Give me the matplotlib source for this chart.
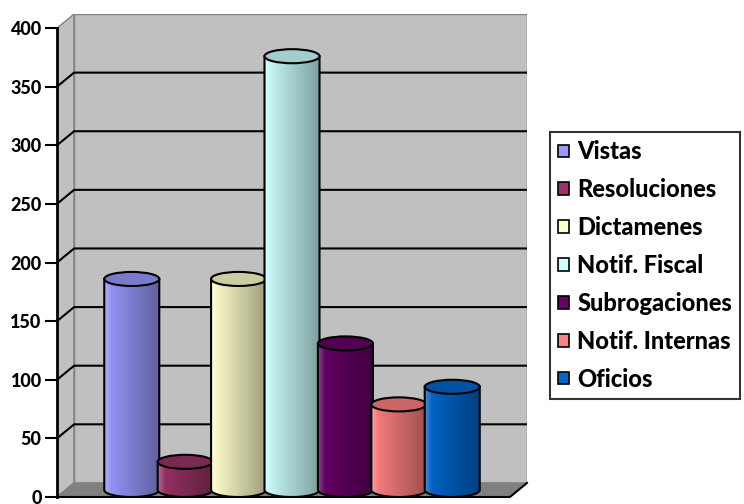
import numpy as np
import matplotlib.pyplot as plt
from matplotlib.patches import Polygon, Ellipse, Patch
from matplotlib.colors import to_rgb

categories = ['Vistas', 'Resoluciones', 'Dictamenes', 'Notif. Fiscal',
              'Subrogaciones', 'Notif. Internas', 'Oficios']
values = [180, 24, 180, 370, 125, 73, 88]
colors = ['#9999FF', '#993366', '#FFFFCC', '#CCFFFF', '#660066', '#FF8080', '#0066CC']
yticks = [0, 50, 100, 150, 200, 250, 300, 350, 400]

plt.rcParams['font.family'] = ['Lato', 'DejaVu Sans']
plt.rcParams['font.weight'] = 'black'

fig = plt.figure(figsize=(7.44, 5.04), dpi=100)
ax = fig.add_axes([57 / 744, 7 / 504, 470 / 744, 483 / 504])

# fake 3d box: floor width in bar units, depth offsets
W = 8.48
dx, dy = 0.32, 12
ymax = yticks[-1]
wall = '#C0C0C0'
edge = '#808080'

ax.add_patch(Polygon([(0, 0), (0, ymax), (dx, ymax + dy), (dx, dy)],
                     fc=wall, ec=edge, lw=1, zorder=0.5))
ax.add_patch(Polygon([(dx, dy), (dx, ymax + dy), (W + dx, ymax + dy), (W + dx, dy)],
                     fc=wall, ec=edge, lw=1, zorder=0.5))
ax.add_patch(Polygon([(0, 0), (W, 0), (W + dx, dy), (dx, dy)],
                     fc='#808080', ec='#808080', lw=1, zorder=0.6))

for v in yticks[1:-1]:
    ax.plot([0, dx, W + dx], [v, v + dy, v + dy], color='k', lw=1.5, zorder=1)

ax.plot([0, W, W + dx], [0, 0, dy], color='k', lw=1.5, zorder=1.5, clip_on=False)

# cylinders
w = 1.03
base = dy / 2
t = np.linspace(np.pi, 2 * np.pi, 60)
for i, (v, c) in enumerate(zip(values, colors)):
    xc = 1.24 + i + dx / 2
    rgb = np.array(to_rgb(c))
    f = np.linspace(0, 1, 80)
    shade = np.clip(1.0 - 0.38 * f, 0, 1)[:, None] * rgb
    light = np.clip(0.25 - f * 2, 0, None)[:, None]
    shade = shade * (1 - light) + light
    grad = np.repeat(shade[None, :, :], 2, axis=0)

    arc = np.column_stack([xc + w / 2 * np.cos(t), base + dy / 2 * np.sin(t)])
    verts = np.vstack([[xc - w / 2, v + base], arc, [xc + w / 2, v + base]])
    body = Polygon(verts, closed=True, fc='none', ec='k', lw=1.5, zorder=2 + i + 0.1)
    ax.add_patch(body)
    im = ax.imshow(grad, extent=[xc - w / 2, xc + w / 2, 0, v + base],
                   aspect='auto', interpolation='bilinear', zorder=2 + i)
    im.set_clip_path(body)

    top = np.clip(rgb * 0.8, 0, 1)
    ax.add_patch(Ellipse((xc, v + base), w, dy, fc=top, ec='k', lw=1.5, zorder=2 + i + 0.2))

ax.set_xlim(0, W + dx)
ax.set_ylim(0, ymax + dy)

for s in ['top', 'right', 'bottom']:
    ax.spines[s].set_visible(False)
ax.spines['left'].set_bounds(0, ymax)
ax.spines['left'].set_linewidth(2)
ax.spines['left'].set_zorder(1.6)
ax.set_xticks([])
ax.set_yticks(yticks)
ax.tick_params(axis='y', length=9, width=1.5, labelsize=13, pad=2)
for lbl in ax.get_yticklabels():
    lbl.set_fontweight('black')

handles = [Patch(fc=c, ec='k', lw=1.2) for c in colors]
leg = fig.legend(handles, categories, loc='upper left',
                 bbox_to_anchor=(550 / 744, 1 - 132 / 504), bbox_transform=fig.transFigure,
                 prop={'weight': 'black', 'size': 17},
                 handlelength=0.45, handleheight=0.45, handletextpad=0.35,
                 labelspacing=0.63, borderpad=0.35, borderaxespad=0,
                 frameon=True, fancybox=False)
leg.get_frame().set_edgecolor('k')
leg.get_frame().set_linewidth(1.5)

fig.savefig('out.png', dpi=100)
